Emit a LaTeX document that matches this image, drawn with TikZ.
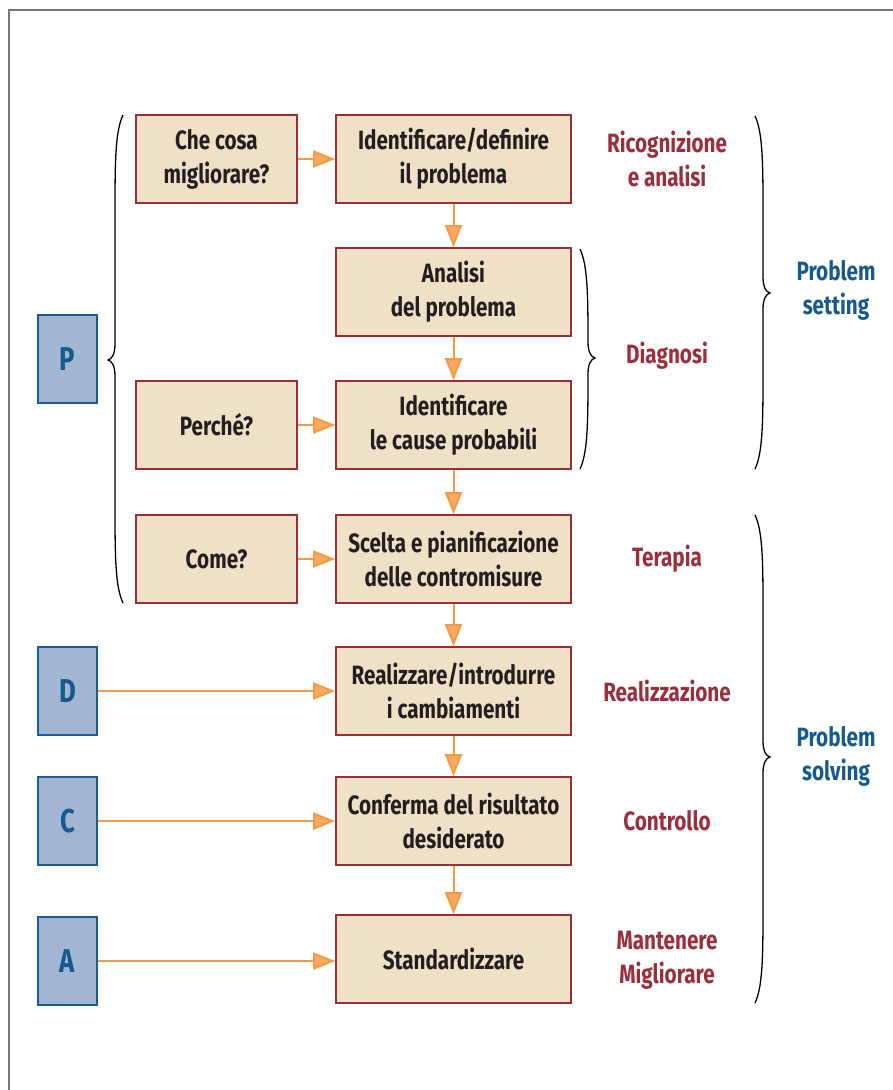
\documentclass[tikz,border=0pt]{standalone}
\usepackage{fontspec}
\setmainfont{Fira Sans}[FakeStretch=0.78]
\usetikzlibrary{arrows.meta}

\definecolor{boxfill}{HTML}{F0E0C6}
\definecolor{boxline}{HTML}{9B2E36}
\definecolor{ink}{HTML}{231F20}
\definecolor{pfill}{HTML}{A2B5D3}
\definecolor{pline}{HTML}{1B5C97}
\definecolor{ptext}{HTML}{15598F}
\definecolor{flowline}{HTML}{F59A45}
\definecolor{flowfill}{HTML}{F9AA62}
\definecolor{phase}{HTML}{9B2E3A}
\definecolor{framegray}{HTML}{777777}

% curly brace: #1 = x of the two ends, #2 = top y, #3 = bottom y,
% #4 = y of the tip, #5 = +1 tip to the right, -1 tip to the left
\newcommand\curlybrace[5]{%
  \draw[bracestyle]
    ({#1},{#2}) .. controls ({#1+#5*7},{#2+15}) and ({#1+#5*8},{#2+40}) ..
    ({#1+#5*8},{#2+90}) -- ({#1+#5*8},{#4-16})
    .. controls ({#1+#5*8},{#4-6}) and ({#1+#5*11},{#4-1}) .. ({#1+#5*15},{#4})
    .. controls ({#1+#5*11},{#4+1}) and ({#1+#5*8},{#4+6}) .. ({#1+#5*8},{#4+16})
    -- ({#1+#5*8},{#3-90}) .. controls ({#1+#5*8},{#3-40}) and ({#1+#5*7},{#3-15}) ..
    ({#1},{#3});}

\tikzset{
  boxtext/.style={font=\fontsize{26.5}{34}\selectfont\bfseries},
  stepbox/.style={draw=boxline, fill=boxfill, line width=1.6pt,
    minimum width=235pt, minimum height=88pt, align=center, text=ink, boxtext},
  askbox/.style={stepbox, minimum width=161pt},
  pdcabox/.style={draw=pline, fill=pfill, line width=1.6pt,
    minimum width=59pt, minimum height=88pt, text=ptext,
    font=\fontsize{33}{36}\selectfont\bfseries},
  flow/.style={draw=flowline, line width=2pt,
    -{Triangle[length=22pt,width=17pt,fill=flowfill]}},
  phaselabel/.style={text=phase, align=center, boxtext},
  grouplabel/.style={text=ptext, align=center, boxtext},
  bracestyle/.style={draw=black, line width=1.3pt},
}

\begin{document}
\begin{tikzpicture}[x=1pt,y=-1pt]
  \useasboundingbox (0,0) rectangle (892,1090);
  % outer frame, open at the right and bottom
  \draw[framegray, line width=1.6pt] (9,1095) -- (9,10) -- (897,10);

  % main chain of steps
  \node[stepbox] (def)  at (453.5,159) {Identificare/definire\\il problema};
  \node[stepbox] (ana)  at (453.5,292) {Analisi\\del problema};
  \node[stepbox] (cau)  at (453.5,425) {Identificare\\le cause probabili};
  \node[stepbox] (pia)  at (453.5,559) {Scelta e pianificazione\\delle contromisure};
  \node[stepbox] (rea)  at (453.5,691) {Realizzare/introdurre\\i cambiamenti};
  \node[stepbox] (con)  at (453.5,821) {Conferma del risultato\\desiderato};
  \node[stepbox] (std)  at (453.5,959) {Standardizzare};

  % guiding questions
  \node[askbox] (cosa)   at (216.5,159) {Che cosa\\migliorare?};
  \node[askbox] (perche) at (216.5,425) {Perché?};
  \node[askbox] (come)   at (216.5,559) {Come?};

  % PDCA letters
  \node[pdcabox] (P) at (67.5,359) {P};
  \node[pdcabox] (D) at (67.5,691) {D};
  \node[pdcabox] (C) at (67.5,821) {C};
  \node[pdcabox] (A) at (67.5,961) {A};

  % connectors
  \draw[flow] (cosa) -- (def);
  \draw[flow] (perche) -- (cau);
  \draw[flow] (come) -- (pia);
  \draw[flow] (def) -- (ana);
  \draw[flow] (ana) -- (cau);
  \draw[flow] (cau) -- (pia);
  \draw[flow] (pia) -- (rea);
  \draw[flow] (rea) -- (con);
  \draw[flow] (con) -- (std);
  \draw[flow] (D.east) -- (D.east -| rea.west);
  \draw[flow] (C.east) -- (C.east -| con.west);
  \draw[flow] (A.east) -- (A.east -| std.west);

  % phase names
  \node[phaselabel] (ric) at (667,159) {Ricognizione\\e analisi};
  \node[phaselabel] (dia) at (667,356) {Diagnosi};
  \node[phaselabel] (ter) at (667,559) {Terapia};
  \node[phaselabel] (rez) at (667,691) {Realizzazione};
  \node[phaselabel] (ctr) at (667,821) {Controllo};
  \node[phaselabel] (man) at (667,960) {Mantenere\\Migliorare};

  \node[grouplabel] (pset) at (836,290) {Problem\\setting};
  \node[grouplabel] (psol) at (836,756) {Problem\\solving};

  % braces
  \curlybrace{123}{115}{603}{360}{-1}
  \curlybrace{580}{249}{469}{358}{1}
  \curlybrace{755}{116}{469}{293}{1}
  \curlybrace{755}{515}{1003}{757}{1}
\end{tikzpicture}
\end{document}
